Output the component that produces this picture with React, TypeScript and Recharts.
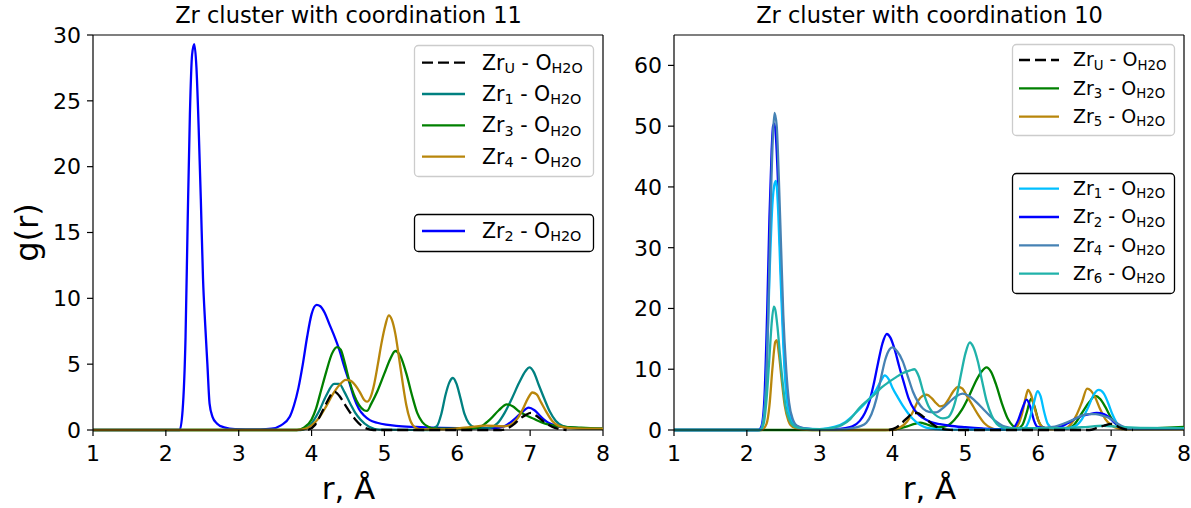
import React from "react"
import { LineChart, Line, XAxis, YAxis, ReferenceLine } from "recharts"

type Pt = [number, number]

const FONT = "DejaVu Sans"
const X_TICKS = [1, 2, 3, 4, 5, 6, 7, 8]
const LEFT_Y_TICKS = [0, 5, 10, 15, 20, 25, 30]
const RIGHT_Y_TICKS = [0, 10, 20, 30, 40, 50, 60]

// ---- left panel (coordination 11): [r, g(r)]
const L_ZRU: Pt[] = [
  [3.95, 0], [4.05, 0.4], [4.12, 1.1], [4.2, 2.0], [4.27, 2.7], [4.32, 2.9], [4.38, 2.6],
  [4.45, 2.0], [4.52, 1.4], [4.6, 0.8], [4.68, 0.35], [4.76, 0.1], [4.85, 0], [6.6, 0],
  [6.7, 0.15], [6.78, 0.45], [6.86, 0.85], [6.94, 1.15], [7.01, 1.3], [7.08, 1.1], [7.15, 0.8],
  [7.22, 0.5], [7.3, 0.25], [7.4, 0.08], [7.5, 0],
]
const L_ZR1: Pt[] = [
  [1, 0], [3.85, 0], [3.92, 0.1], [4.0, 0.5], [4.1, 1.4], [4.2, 2.6], [4.31, 3.5], [4.38, 3.5],
  [4.45, 2.9], [4.54, 1.9], [4.6, 1.3], [4.67, 0.8], [4.79, 0.25], [4.93, 0.03], [5.6, 0],
  [5.72, 0.3], [5.78, 1.2], [5.84, 2.7], [5.89, 3.6], [5.94, 3.95], [5.99, 3.5], [6.04, 2.5],
  [6.1, 1.2], [6.16, 0.5], [6.24, 0.2], [6.4, 0.12], [6.55, 0.5], [6.65, 1.3], [6.75, 2.4],
  [6.85, 3.6], [6.94, 4.5], [6.99, 4.75], [7.05, 4.4], [7.12, 3.4], [7.2, 2.3], [7.27, 1.4],
  [7.35, 0.7], [7.45, 0.3], [7.6, 0.15], [8, 0.1],
]
const L_ZR2: Pt[] = [
  [1, 0], [2.19, 0], [2.23, 1.5], [2.27, 7], [2.3, 16], [2.33, 24], [2.36, 28.5], [2.39, 29.3],
  [2.42, 27.5], [2.45, 23], [2.48, 17.5], [2.51, 11.5], [2.54, 8], [2.57, 5], [2.6, 2],
  [2.64, 1], [2.7, 0.5], [2.8, 0.2], [2.95, 0.07], [3.3, 0.05], [3.45, 0.1], [3.58, 0.35],
  [3.7, 1.0], [3.76, 1.9], [3.82, 3.2], [3.88, 5.0], [3.94, 7.1], [4.0, 8.8], [4.07, 9.5],
  [4.12, 9.4], [4.18, 8.9], [4.24, 8.1], [4.3, 7.3], [4.38, 6.1], [4.45, 4.8], [4.52, 3.6],
  [4.58, 2.5], [4.65, 1.6], [4.72, 1.1], [4.8, 0.75], [4.9, 0.55], [5.02, 0.4], [5.2, 0.3],
  [5.5, 0.22], [6.0, 0.15], [6.5, 0.15], [6.65, 0.3], [6.78, 0.8], [6.88, 1.3], [6.98, 1.7],
  [7.06, 1.5], [7.15, 1.0], [7.25, 0.55], [7.35, 0.33], [7.5, 0.2], [7.8, 0.12], [8, 0.1],
]
const L_ZR3: Pt[] = [
  [1, 0], [3.8, 0], [3.9, 0.2], [4.0, 0.8], [4.06, 1.6], [4.13, 3], [4.2, 4.4], [4.28, 5.8],
  [4.35, 6.3], [4.4, 6.1], [4.46, 5], [4.52, 3.7], [4.58, 2.7], [4.65, 1.9], [4.72, 1.5],
  [4.76, 1.45], [4.82, 2], [4.9, 2.9], [5.0, 4.3], [5.08, 5.4], [5.15, 6.0], [5.22, 5.6],
  [5.3, 4.3], [5.38, 2.6], [5.45, 1.3], [5.52, 0.6], [5.6, 0.25], [5.7, 0.1], [6.2, 0.1],
  [6.35, 0.35], [6.45, 0.8], [6.57, 1.5], [6.68, 1.95], [6.76, 1.8], [6.85, 1.4], [6.95, 1.1],
  [7.05, 0.85], [7.15, 0.6], [7.26, 0.4], [7.45, 0.25], [7.7, 0.18], [8, 0.1],
]
const L_ZR4: Pt[] = [
  [1, 0], [3.8, 0], [3.92, 0.1], [4.0, 0.35], [4.1, 0.9], [4.2, 1.8], [4.29, 2.7], [4.38, 3.4],
  [4.47, 3.8], [4.53, 3.75], [4.6, 3.4], [4.66, 2.9], [4.72, 2.3], [4.76, 2.15], [4.81, 2.5],
  [4.86, 3.5], [4.91, 5], [4.96, 6.6], [5.01, 7.9], [5.06, 8.7], [5.1, 8.4], [5.15, 7.3],
  [5.2, 5.5], [5.25, 3.6], [5.3, 1.9], [5.35, 0.8], [5.42, 0.2], [5.5, 0.05], [5.8, 0.05],
  [6.1, 0.18], [6.4, 0.33], [6.65, 0.28], [6.75, 0.45], [6.83, 0.9], [6.9, 1.6], [6.97, 2.4],
  [7.03, 2.85], [7.09, 2.7], [7.15, 2.1], [7.22, 1.4], [7.3, 0.7], [7.4, 0.3], [7.55, 0.15],
  [8, 0.1],
]

// ---- right panel (coordination 10)
const R_ZRU: Pt[] = [
  [3.95, 0], [4.05, 0.4], [4.14, 1.3], [4.22, 2.2], [4.28, 2.8], [4.34, 2.8], [4.42, 2.2],
  [4.5, 1.4], [4.58, 0.7], [4.65, 0.3], [4.75, 0.05], [4.85, 0], [6.7, 0], [6.8, 0.3],
  [6.9, 0.7], [7.0, 1.0], [7.06, 0.8], [7.12, 0.4], [7.2, 0.1], [7.3, 0],
]
const R_ZR3: Pt[] = [
  [1, 0], [3.9, 0], [4.05, 0.15], [4.2, 0.6], [4.3, 1.0], [4.38, 1.2], [4.46, 0.95], [4.55, 0.6],
  [4.65, 0.45], [4.75, 0.7], [4.85, 1.7], [4.95, 3.3], [5.05, 5.6], [5.15, 8.2], [5.22, 9.6],
  [5.29, 10.3], [5.35, 9.6], [5.42, 7.5], [5.5, 4.4], [5.58, 1.9], [5.65, 0.7], [5.72, 0.3],
  [5.78, 0.8], [5.84, 2.8], [5.9, 5.1], [5.95, 3.8], [6.0, 1.6], [6.06, 0.5], [6.15, 0.2],
  [6.4, 0.3], [6.5, 1.0], [6.6, 2.8], [6.7, 4.6], [6.78, 5.6], [6.85, 5.1], [6.92, 3.8],
  [7.0, 2.0], [7.08, 0.8], [7.18, 0.3], [7.4, 0.25], [7.7, 0.35], [8, 0.5],
]
const R_ZR5: Pt[] = [
  [1, 0], [2.2, 0], [2.27, 1], [2.31, 4], [2.35, 10], [2.39, 14.5], [2.41, 14.8], [2.44, 12.5],
  [2.48, 8], [2.52, 4], [2.57, 1.5], [2.63, 0.5], [2.75, 0.1], [2.9, 0], [4.0, 0], [4.1, 0.4],
  [4.2, 1.4], [4.28, 3.0], [4.35, 4.8], [4.41, 5.6], [4.47, 5.8], [4.54, 5.2], [4.6, 4.4],
  [4.65, 3.9], [4.7, 4.0], [4.76, 4.9], [4.83, 6.3], [4.9, 7.1], [4.96, 6.8], [5.02, 5.6],
  [5.1, 4.0], [5.18, 2.4], [5.26, 1.1], [5.34, 0.4], [5.42, 0.1], [5.65, 0.1], [5.72, 0.8],
  [5.78, 2.8], [5.83, 5.5], [5.86, 6.6], [5.9, 5.8], [5.95, 3.6], [6.0, 1.6], [6.06, 0.4],
  [6.15, 0.1], [6.35, 0.2], [6.45, 1.0], [6.53, 2.6], [6.6, 4.6], [6.67, 6.8], [6.72, 6.5],
  [6.78, 5.4], [6.85, 3.4], [6.92, 1.8], [7.0, 0.8], [7.08, 0.3], [7.2, 0.1], [8, 0.1],
]
const R_ZR1: Pt[] = [
  [1, 0], [2.18, 0], [2.23, 2], [2.27, 9], [2.31, 25], [2.35, 37], [2.38, 40.5], [2.4, 41],
  [2.43, 36], [2.46, 26], [2.5, 14], [2.54, 6], [2.59, 2.3], [2.65, 0.8], [2.75, 0.3],
  [3.0, 0.15], [3.2, 0.5], [3.35, 1.3], [3.5, 2.9], [3.64, 4.6], [3.77, 6.5], [3.85, 8.3],
  [3.89, 9.0], [3.95, 8.3], [4.0, 6.9], [4.07, 5.4], [4.14, 4.0], [4.21, 2.8], [4.28, 1.8],
  [4.37, 0.9], [4.46, 0.4], [4.6, 0.15], [4.8, 0.05], [5.7, 0.05], [5.82, 0.4], [5.88, 1.8],
  [5.94, 4.5], [5.99, 6.4], [6.03, 5.6], [6.08, 3.0], [6.13, 1.0], [6.2, 0.3], [6.35, 0.2],
  [6.5, 0.6], [6.6, 1.8], [6.68, 3.6], [6.76, 5.8], [6.83, 6.6], [6.9, 6.0], [6.96, 4.4],
  [7.02, 2.5], [7.1, 0.8], [7.2, 0.3], [7.5, 0.2], [8, 0.2],
]
const R_ZR2: Pt[] = [
  [1, 0], [2.16, 0], [2.2, 0.6], [2.24, 5], [2.28, 20], [2.31, 35], [2.34, 46], [2.36, 50],
  [2.38, 50.4], [2.4, 48], [2.43, 40], [2.46, 29], [2.49, 19], [2.52, 11], [2.56, 5], [2.6, 2.2],
  [2.66, 0.9], [2.75, 0.35], [2.9, 0.15], [3.2, 0.15], [3.35, 0.3], [3.45, 0.6], [3.55, 1.5],
  [3.62, 2.8], [3.68, 4.6], [3.74, 7.5], [3.8, 11], [3.86, 14.2], [3.92, 15.8], [3.97, 15.2],
  [4.03, 13.2], [4.09, 10.5], [4.15, 8.0], [4.22, 5.2], [4.3, 3.3], [4.37, 2.4], [4.46, 1.7],
  [4.55, 1.2], [4.65, 0.95], [4.78, 0.7], [5.0, 0.45], [5.23, 0.25], [5.5, 0.12], [5.65, 0.3],
  [5.72, 1.5], [5.78, 3.5], [5.84, 5.0], [5.89, 3.8], [5.94, 1.6], [5.99, 0.5], [6.1, 0.3],
  [6.3, 0.5], [6.4, 1.1], [6.5, 1.8], [6.6, 2.3], [6.7, 2.6], [6.8, 2.8], [6.9, 2.6],
  [6.97, 2.1], [7.04, 1.3], [7.12, 0.6], [7.22, 0.3], [7.5, 0.2], [8, 0.2],
]
const R_ZR4: Pt[] = [
  [1, 0], [2.18, 0], [2.22, 1], [2.26, 6], [2.3, 22], [2.33, 38], [2.36, 49], [2.38, 52.2],
  [2.41, 50], [2.44, 41], [2.47, 30], [2.5, 19], [2.54, 10], [2.58, 4.5], [2.63, 1.8],
  [2.7, 0.6], [2.8, 0.25], [3.0, 0.1], [3.3, 0.1], [3.45, 0.3], [3.55, 0.6], [3.64, 1.2],
  [3.71, 2.6], [3.78, 5.2], [3.84, 8.5], [3.9, 11.6], [3.96, 13.3], [4.0, 13.6], [4.06, 13.0],
  [4.14, 11.3], [4.21, 8.8], [4.28, 6.3], [4.35, 4.6], [4.42, 3.5], [4.5, 3.0], [4.6, 2.9],
  [4.69, 3.6], [4.78, 4.6], [4.87, 5.5], [4.96, 6.0], [5.05, 5.6], [5.15, 4.6], [5.24, 3.5],
  [5.33, 2.4], [5.42, 1.4], [5.51, 0.7], [5.6, 0.4], [5.7, 0.25], [6.0, 0.3], [6.2, 0.5],
  [6.38, 1.2], [6.5, 1.8], [6.6, 2.4], [6.7, 2.6], [6.79, 2.6], [6.9, 2.3], [7.0, 1.8],
  [7.07, 1.2], [7.14, 0.7], [7.22, 0.35], [7.3, 0.15], [8, 0.2],
]
const R_ZR6: Pt[] = [
  [1, 0], [2.18, 0], [2.23, 1], [2.27, 5], [2.31, 12], [2.34, 17.5], [2.37, 20.3], [2.39, 19.8],
  [2.42, 17], [2.45, 13], [2.49, 8], [2.53, 4], [2.58, 1.8], [2.64, 0.7], [2.72, 0.3],
  [2.85, 0.15], [3.05, 0.15], [3.2, 0.4], [3.3, 0.8], [3.42, 1.8], [3.55, 3.7], [3.65, 4.8],
  [3.75, 5.8], [3.85, 7.0], [3.95, 7.9], [4.05, 8.7], [4.13, 9.3], [4.19, 9.6], [4.24, 9.8],
  [4.3, 10.0], [4.36, 8.8], [4.42, 6.3], [4.49, 4.0], [4.55, 2.9], [4.62, 2.2], [4.69, 1.9],
  [4.76, 2.1], [4.82, 3.2], [4.88, 5.6], [4.94, 9.2], [5.0, 12.6], [5.06, 14.4], [5.11, 13.6],
  [5.17, 11.3], [5.23, 8.0], [5.29, 4.8], [5.36, 2.4], [5.43, 1.0], [5.52, 0.4], [5.65, 0.3],
  [6.2, 0.3], [6.6, 0.45], [6.9, 0.7], [7.1, 0.5], [7.4, 0.35], [8, 0.3],
]

interface Series {
  id: string
  sub: string
  color: string
  dashed?: boolean
  pts: Pt[]
}

// drawing order
const LEFT_SERIES: Series[] = [
  { id: "l2", sub: "2", color: "#0000ff", pts: L_ZR2 },
  { id: "l1", sub: "1", color: "#008080", pts: L_ZR1 },
  { id: "l3", sub: "3", color: "#008000", pts: L_ZR3 },
  { id: "l4", sub: "4", color: "#b8860b", pts: L_ZR4 },
  { id: "lu", sub: "U", color: "#000000", dashed: true, pts: L_ZRU },
]
const RIGHT_SERIES: Series[] = [
  { id: "r3", sub: "3", color: "#008000", pts: R_ZR3 },
  { id: "r5", sub: "5", color: "#b8860b", pts: R_ZR5 },
  { id: "r2", sub: "2", color: "#0000ff", pts: R_ZR2 },
  { id: "r1", sub: "1", color: "#00bfff", pts: R_ZR1 },
  { id: "r4", sub: "4", color: "#4682b4", pts: R_ZR4 },
  { id: "r6", sub: "6", color: "#20b2aa", pts: R_ZR6 },
  { id: "ru", sub: "U", color: "#000000", dashed: true, pts: R_ZRU },
]

const byId = (list: Series[], ids: string[]) => ids.map((id) => list.find((s) => s.id === id)!)

const tickStyle = { fontSize: 22, fill: "#000", fontFamily: FONT }
const spine = { stroke: "#000", strokeWidth: 1.2 }

function Panel({
  left, width, yWidth, marginRight, yMax, yTicks, series,
}: {
  left: number; width: number; yWidth: number; marginRight: number
  yMax: number; yTicks: number[]; series: Series[]
}) {
  return (
    <div style={{ position: "absolute", left, top: 0 }}>
      <LineChart width={width} height={508} margin={{ top: 35, right: marginRight, bottom: 48, left: 0 }}>
        <XAxis
          dataKey="r" type="number" domain={[1, 8]} ticks={X_TICKS} height={30}
          tick={tickStyle} tickSize={6} tickMargin={9} axisLine={spine} tickLine={spine}
        />
        <YAxis
          type="number" domain={[0, yMax]} ticks={yTicks} width={yWidth}
          tick={tickStyle} tickSize={6} tickMargin={6} axisLine={spine} tickLine={spine}
        />
        {/* top and right spines */}
        <ReferenceLine y={yMax} stroke="#000" strokeWidth={1.2} />
        <ReferenceLine x={8} stroke="#000" strokeWidth={1.2} />
        {series.map((s) => (
          <Line
            key={s.id}
            data={s.pts.map(([r, g]) => ({ r, g }))}
            dataKey="g"
            name={s.id}
            type="monotone"
            stroke={s.color}
            strokeWidth={2.3}
            strokeDasharray={s.dashed ? "11 5" : undefined}
            dot={false}
            activeDot={false}
            isAnimationActive={false}
          />
        ))}
      </LineChart>
    </div>
  )
}

function LegendBox({
  x, y, w, h, items, framed, font, row0, step, s0, s1, tx,
}: {
  x: number; y: number; w: number; h: number; items: Series[]; framed?: boolean
  font: number; row0: number; step: number; s0: number; s1: number; tx: number
}) {
  const sub = font * 0.7
  const sd = font * 0.16
  return (
    <g>
      <rect
        x={x + 0.5} y={y + 0.5} width={w} height={h} rx={4}
        fill="#fff" fillOpacity={0.8} stroke={framed ? "#000" : "#cccccc"} strokeWidth={1.3}
      />
      {items.map((s, i) => {
        const cy = y + row0 + i * step
        return (
          <g key={s.id}>
            <line
              x1={x + s0} x2={x + s1} y1={cy} y2={cy} stroke={s.color} strokeWidth={2.3}
              strokeDasharray={s.dashed ? "11 5" : undefined}
            />
            <text x={x + tx} y={cy + font * 0.34} fontSize={font} fontFamily={FONT} fill="#000">
              Zr<tspan fontSize={sub} dy={sd}>{s.sub}</tspan>
              <tspan dy={-sd}>{" - O"}</tspan>
              <tspan fontSize={sub} dy={sd}>H2O</tspan>
            </text>
          </g>
        )
      })}
    </g>
  )
}

export default function App() {
  return (
    <div style={{ position: "absolute", left: 0, top: 0, width: 1191, height: 508, background: "#fff" }}>
      <Panel left={0} width={610} yWidth={93} marginRight={7} yMax={30} yTicks={LEFT_Y_TICKS} series={LEFT_SERIES} />
      <Panel left={600} width={591} yWidth={74} marginRight={7} yMax={65} yTicks={RIGHT_Y_TICKS} series={RIGHT_SERIES} />
      <svg width={1191} height={508} style={{ position: "absolute", left: 0, top: 0, pointerEvents: "none" }}>
        <text x={348.5} y={23.3} textAnchor="middle" fontSize={22.5} fontFamily={FONT}>Zr cluster with coordination 11</text>
        <text x={929.5} y={23.3} textAnchor="middle" fontSize={22.5} fontFamily={FONT}>Zr cluster with coordination 10</text>
        <text x={348.5} y={499} textAnchor="middle" fontSize={31} fontFamily={FONT}>r, Å</text>
        <text x={929.5} y={499} textAnchor="middle" fontSize={31} fontFamily={FONT}>r, Å</text>
        <text x={38} y={232.5} textAnchor="middle" fontSize={32} fontFamily={FONT} transform="rotate(-90 38 232.5)">g(r)</text>
        <LegendBox x={414} y={45} w={179} h={131} items={byId(LEFT_SERIES, ["lu", "l1", "l3", "l4"])}
          font={20.5} row0={17.7} step={31.3} s0={8} s1={51} tx={68} />
        <LegendBox x={414} y={214} w={179} h={37} framed items={byId(LEFT_SERIES, ["l2"])}
          font={20.5} row0={17} step={31.3} s0={8} s1={51} tx={68} />
        <LegendBox x={1012} y={44} w={162} h={91} items={byId(RIGHT_SERIES, ["ru", "r3", "r5"])}
          font={19} row0={16} step={28.3} s0={7} s1={47} tx={61} />
        <LegendBox x={1012} y={173} w={162} h={120} framed items={byId(RIGHT_SERIES, ["r1", "r2", "r4", "r6"])}
          font={19} row0={15.7} step={28.3} s0={7} s1={47} tx={61} />
      </svg>
    </div>
  )
}
